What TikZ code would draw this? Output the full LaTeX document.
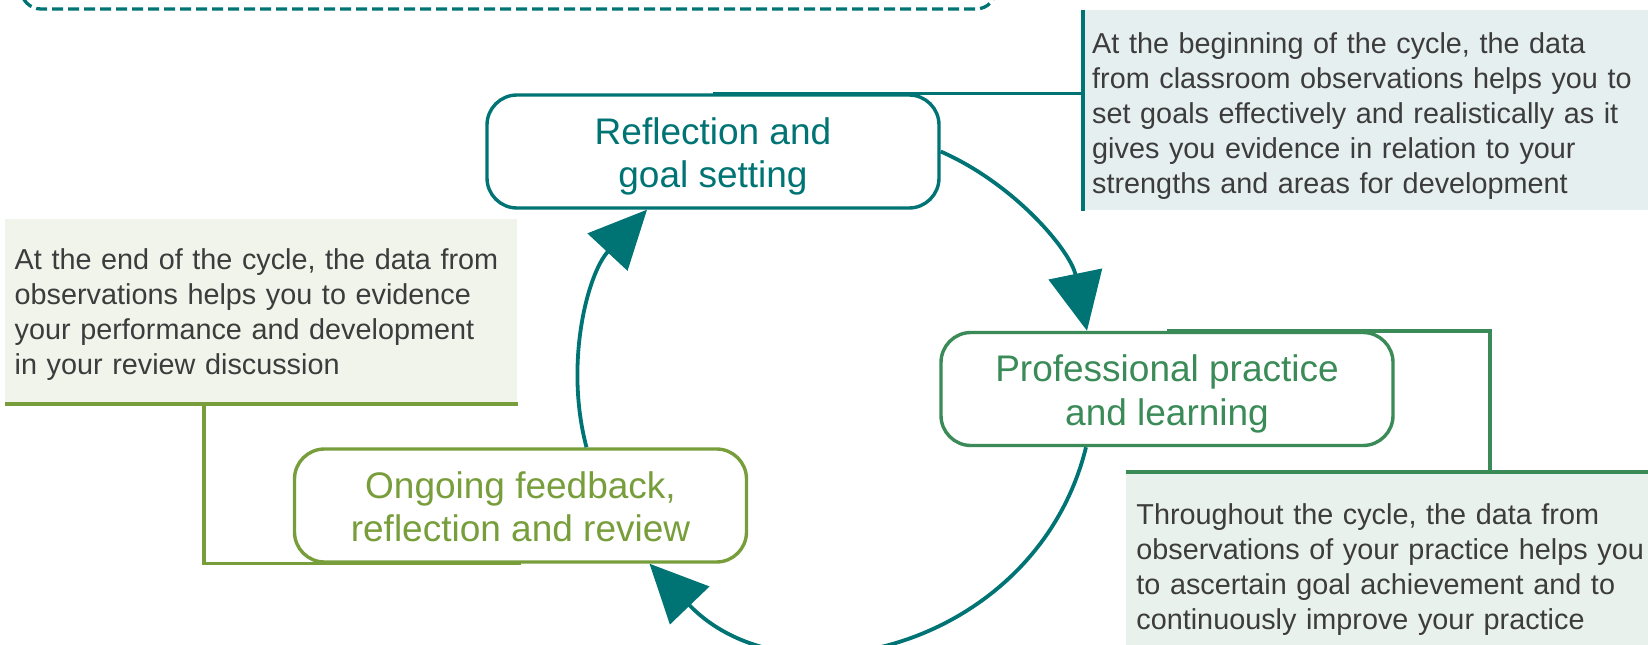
\documentclass[tikz,border=0pt]{standalone}
\usepackage{fontspec}
\setmainfont{Liberation Sans}
\usetikzlibrary{arrows.meta,calc}
\definecolor{tealc}{RGB}{0,116,116}
\definecolor{greenc}{RGB}{58,139,87}
\definecolor{olivec}{RGB}{120,158,60}
\definecolor{inkc}{RGB}{60,60,60}
\definecolor{fillT}{RGB}{230,239,240}
\definecolor{fillG}{RGB}{233,241,236}
\definecolor{fillO}{RGB}{241,244,235}
\begin{document}
\begin{tikzpicture}[x=0.5pt,y=0.5pt,
  stagebox/.style={draw=#1,text=#1,line width=1.7pt,rounded corners=15pt,fill=white,minimum width=226pt,minimum height=56.5pt,align=center,text height=40pt,text depth=4pt,font=\fontsize{18.5}{21.7}\selectfont},
  notebox/.style={fill=#1,inner ysep=0pt,inner xsep=4.4pt,align=left,text=inkc,font=\fontsize{14.4}{17.5}\selectfont},
  lower/.style={execute at begin node={\rule{0pt}{#1}}},
  cyclearc/.style={tealc,line width=1.9pt,-{Triangle[length=29pt,width=27pt]}},
  linkline/.style={line width=1.7pt}]
\useasboundingbox (0,0) rectangle (1648,644);
\clip (0,0) rectangle (1648,644);
\draw[tealc,line width=1.65pt,dash pattern=on 5.5pt off 2.5pt,rounded corners=10pt] (21,635) rectangle (996,720);
\node[notebox=fillT,lower=15.7pt,anchor=north west,minimum height=100pt,text width=273.7pt] (note1) at (1083,634) {At the beginning of the cycle, the data\\from classroom observations helps you to\\set goals effectively and realistically as it\\gives you evidence in relation to your\\strengths and areas for development};
\node[notebox=fillG,lower=15.7pt,anchor=north west,minimum height=92pt,text width=262pt,inner xsep=5pt] (note2) at (1126,172) {Throughout the cycle, the data from\\observations of your practice helps you\\to ascertain goal achievement and to\\continuously improve your practice};
\node[notebox=fillO,lower=14pt,anchor=south west,minimum height=92.5pt,text width=246.7pt,inner xsep=4.65pt] (note3) at (5,240) {At the end of the cycle, the data from\\observations helps you to evidence\\your performance and development\\in your review discussion};
\draw[tealc,linkline] (note1.north west) -- (note1.south west);
\draw[greenc,linkline] (note2.north west) -- (note2.north east);
\draw[olivec,line width=1.9pt] (note3.south west) -- (note3.south east);
\node[stagebox=tealc] (refl) at (713,492.5) {Reflection and\\goal setting};
\node[stagebox=greenc] (prof) at (1167,255) {Professional practice\\and learning};
\node[stagebox=olivec] (ong) at (520.5,138.5) {Ongoing feedback,\\reflection and review};
\coordinate (k2) at (1490,172);
\coordinate (k3) at (204,240);
\draw[tealc,linkline] (refl.north) -- (refl.north -| note1.west);
\draw[greenc,linkline] (prof.north) -| (k2);
\draw[olivec,linkline] (k3) |- (ong.south);
\draw[cyclearc] (refl.east) to[out=-23.7,in=101.6,looseness=0.9] ($(prof.north)+(-80,0)$);
\draw[cyclearc] ($(prof.south)+(-81,0)$) to[out=-103.8,in=-46.1,looseness=1.15] ($(ong.south)+(129,0)$);
\draw[cyclearc] ($(ong.north)+(66,0)$) to[out=104.9,in=-133,looseness=0.91] ($(refl.south)+(-66,0)$);
\end{tikzpicture}
\end{document}
